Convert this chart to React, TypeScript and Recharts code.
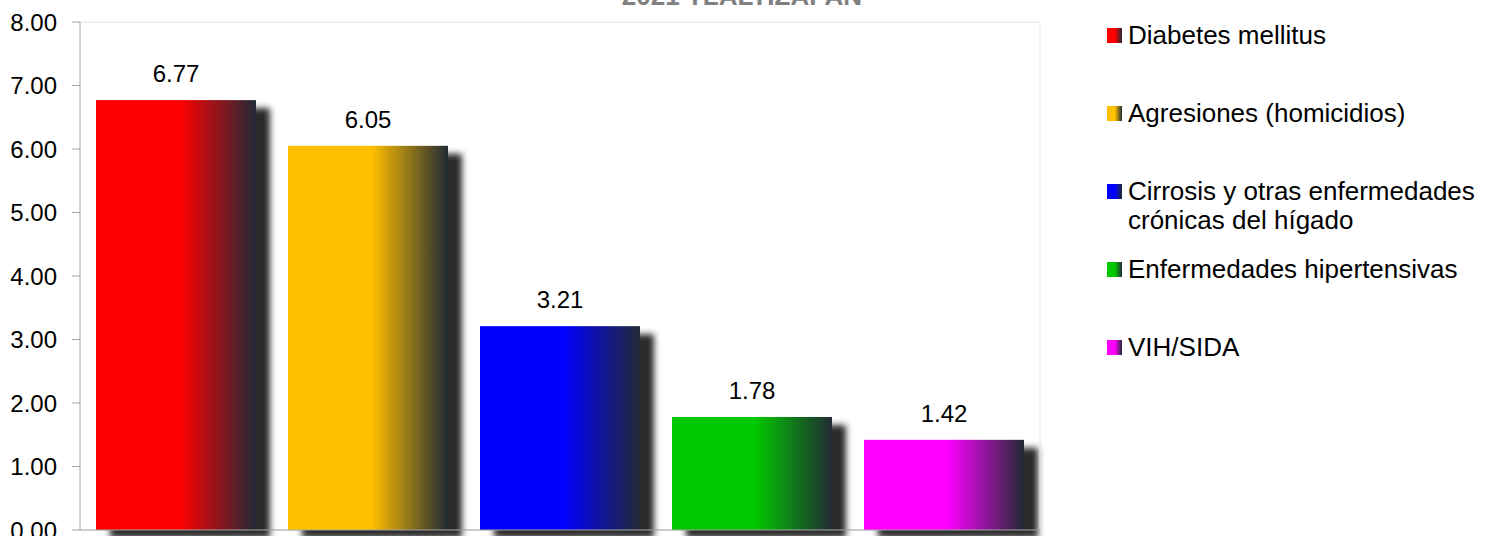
import {
  Bar,
  BarChart,
  CartesianGrid,
  Cell,
  LabelList,
  Legend,
  XAxis,
  YAxis,
} from "recharts";

const TITLE = "2021 TLALTIZAPAN";
const CAUSES = [
  "Diabetes mellitus",
  "Agresiones (homicidios)",
  "Cirrosis y otras enfermedades crónicas del hígado",
  "Enfermedades hipertensivas",
  "VIH/SIDA",
];
const RATES = [6.77, 6.05, 3.21, 1.78, 1.42];
const COLORS = ["#ff0000", "#ffc000", "#0000ff", "#00c800", "#ff00ff"];
const Y_TICKS = [0, 1, 2, 3, 4, 5, 6, 7, 8];

const FONT = '"Liberation Sans", Arial, sans-serif';
const DARK = "#222a35";

const data = CAUSES.map((cause, i) => ({ cause, rate: RATES[i] }));

// Excel-style bar: gradient body plus a blurred dark shadow offset down-right.
function ShadowBar(props: any) {
  const { x, y, width, height, fill } = props;
  if (!height) return null;
  return (
    <g>
      <rect
        x={x + 14}
        y={y + 8}
        width={width}
        height={height}
        fill="#2a2a2a"
        filter="url(#bar-shadow)"
      />
      <rect x={x} y={y} width={width} height={height} fill={fill} />
    </g>
  );
}

function CauseLegend() {
  return (
    <div style={{ fontFamily: FONT, fontSize: 26, color: "#000" }}>
      {CAUSES.map((cause, i) => (
        <div
          key={cause}
          style={{ display: "flex", alignItems: "flex-start", height: 78 }}
        >
          <svg
            width={15}
            height={15}
            style={{ marginTop: 7, marginRight: 6, flex: "none" }}
          >
            <rect width={15} height={15} fill={`url(#bar-grad-${i})`} />
          </svg>
          <span style={{ lineHeight: "29px", width: 358 }}>{cause}</span>
        </div>
      ))}
    </div>
  );
}

export default function App() {
  return (
    <div
      style={{
        position: "fixed",
        left: 0,
        top: 0,
        width: 1486,
        height: 536,
        background: "#fff",
        overflow: "hidden",
      }}
    >
      <div
        style={{
          position: "absolute",
          left: 742,
          top: -19,
          transform: "translateX(-50%)",
          fontFamily: FONT,
          fontWeight: "bold",
          fontSize: 26,
          color: "#808080",
          whiteSpace: "nowrap",
        }}
      >
        {TITLE}
      </div>
      <BarChart
        width={1486}
        height={536}
        data={data}
        margin={{ top: 22, right: 445, bottom: 5, left: 0 }}
        barCategoryGap="8.33%"
      >
        <defs>
          {COLORS.map((c, i) => (
            <linearGradient
              key={c}
              id={`bar-grad-${i}`}
              x1="0"
              y1="0"
              x2="1"
              y2="0"
            >
              <stop offset="0%" stopColor={c} />
              <stop offset="52%" stopColor={c} />
              <stop offset="100%" stopColor={DARK} />
            </linearGradient>
          ))}
          <filter id="bar-shadow" x="-20%" y="-20%" width="140%" height="140%">
            <feGaussianBlur stdDeviation="3" />
          </filter>
        </defs>
        <CartesianGrid stroke="#e3e3e3" vertical={false} />
        <XAxis
          dataKey="cause"
          tick={false}
          tickLine={false}
          height={1}
          axisLine={{ stroke: "#a6a6a6" }}
        />
        <YAxis
          yAxisId="left"
          domain={[0, 8]}
          ticks={Y_TICKS}
          interval={0}
          width={80}
          tickSize={8}
          tickMargin={15}
          tickFormatter={(v: number) => v.toFixed(2)}
          tick={{ fontSize: 24, fill: "#000", fontFamily: FONT }}
          axisLine={{ stroke: "#a6a6a6" }}
          tickLine={{ stroke: "#a6a6a6" }}
        />
        <YAxis
          yAxisId="right"
          orientation="right"
          domain={[0, 8]}
          width={1}
          tick={false}
          tickLine={false}
          axisLine={{ stroke: "#e3e3e3" }}
        />
        <Legend
          layout="vertical"
          align="center"
          verticalAlign="middle"
          content={<CauseLegend />}
          wrapperStyle={{ left: 1107, top: 21, width: 379 }}
        />
        <Bar
          yAxisId="left"
          dataKey="rate"
          shape={ShadowBar}
          isAnimationActive={false}
        >
          {data.map((d, i) => (
            <Cell key={d.cause} fill={`url(#bar-grad-${i})`} />
          ))}
          <LabelList
            dataKey="rate"
            position="top"
            offset={18}
            formatter={(v: any) => Number(v).toFixed(2)}
            style={{ fontSize: 24, fill: "#000", fontFamily: FONT }}
          />
        </Bar>
      </BarChart>
    </div>
  );
}
